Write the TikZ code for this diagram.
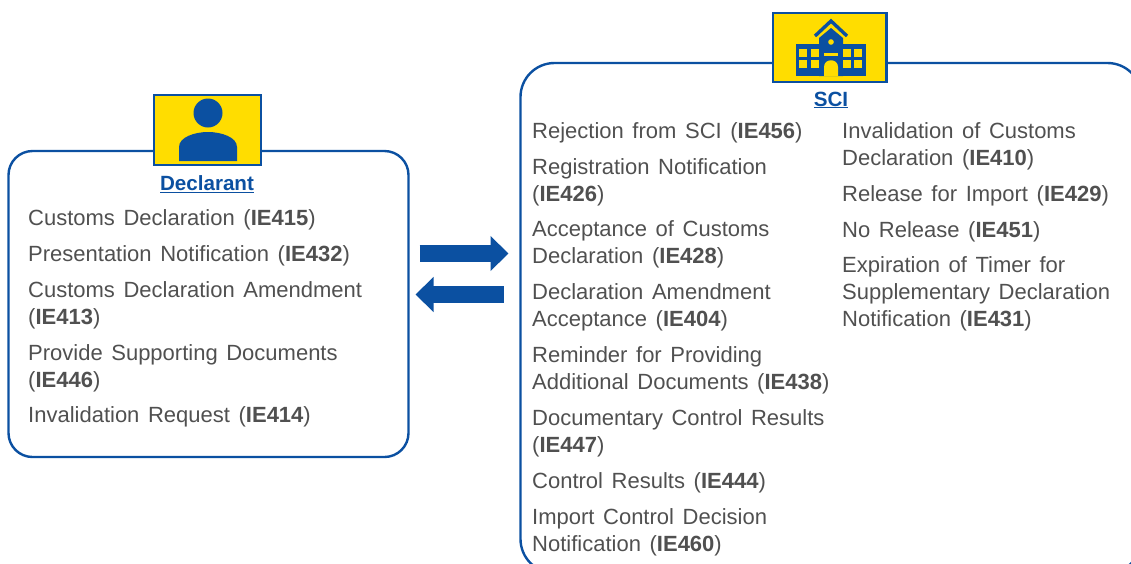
\documentclass[tikz,border=0pt]{standalone}
\usepackage{fontspec}
\setmainfont{Liberation Sans}
\usetikzlibrary{arrows.meta}
\definecolor{panelblue}{RGB}{11,80,161}
\definecolor{iconyellow}{RGB}{255,221,0}
\definecolor{itemgray}{RGB}{80,80,80}
\newcommand{\iecode}[1]{(\textbf{IE#1})}
\tikzset{
  panel/.style={draw=panelblue, line width=2.4pt, rounded corners=24pt, anchor=north west, inner sep=0pt, outer sep=0pt},
  iconbox/.style={draw=panelblue, line width=2.4pt, fill=iconyellow, anchor=north west, inner sep=0pt, outer sep=0pt},
  heading/.style={font=\fontsize{20.6}{24}\selectfont\bfseries, text=panelblue, inner sep=0pt},
  item/.style={font=\fontsize{22}{27}\selectfont, text=itemgray, anchor=north west, inner sep=0pt,
    text width=#1, align=left, execute at begin node={\spaceskip=8.6pt\strut}},
  flowarrow/.style={draw=panelblue, line width=17pt, -{Triangle[length=18pt, width=34pt]}}
}

\begin{document}
\begin{tikzpicture}[x=1pt, y=-1pt]

\clip (0,0) rectangle (1131,563);

% ── Panels ──────────────────────────────────────────────
\node[panel, minimum width=400pt, minimum height=306pt] (declarantbox) at (8.5,151) {};
\node[panel, rounded corners=34pt, minimum width=621pt, minimum height=510pt] (scibox) at (520.5,63) {};

% ── Icon boxes ──────────────────────────────────────────
\node[iconbox, minimum width=107pt, minimum height=70pt] (declaranticon) at (154,95) {};
\node[iconbox, minimum width=113.5pt, minimum height=69pt] (sciicon) at (773,13) {};

% person
\fill[panelblue] (208,113) circle[radius=14.5pt];
\fill[panelblue] (179,161) -- (179,147) .. controls (179,137) and (195,132) .. (208,132)
  .. controls (221,132) and (237,137) .. (237,147) -- (237,161) -- cycle;

% building
\fill[panelblue] (796,44) rectangle (866,76);
\fill[panelblue] (819,76) -- (819,38) -- (831,28) -- (843,38) -- (843,76) -- cycle;
\draw[panelblue, line width=3.4pt] (815,36) -- (831,21) -- (847,36);
\fill[iconyellow] (831,42) circle[radius=2.8pt];
\fill[iconyellow] (824,53) rectangle (838,56);
\fill[iconyellow] (824,76) -- (824,67) .. controls (824,58) and (838,58) .. (838,67) -- (838,76) -- cycle;
\foreach \wx in {799,811,843,854}
  \foreach \wy in {49,60}
    \fill[iconyellow] (\wx,\wy) rectangle (\wx+8,\wy+7.5);

% ── Headings ────────────────────────────────────────────
\node[heading] (declarantlabel) at (207,184) {\underline{Declarant}};
\node[heading] (scilabel) at (831,100) {\underline{SCI}};

% ── Declarant messages ──────────────────────────────────
\foreach \i/\ypos/\txt in {
  1/206.5/Customs Declaration \iecode{415},
  2/242.5/Presentation Notification \iecode{432},
  3/278.5/Customs Declaration Amendment\\\iecode{413},
  4/341.5/Provide Supporting Documents\\\iecode{446},
  5/403.5/Invalidation Request \iecode{414}}
{
  \node[item=350pt] (declarantitem\i) at (28,\ypos) {\txt};
}

% ── SCI messages, left column ───────────────────────────
\foreach \i/\ypos/\txt in {
  1/119.5/Rejection from SCI \iecode{456},
  2/155.5/Registration Notification\\\iecode{426},
  3/217.5/Acceptance of Customs\\Declaration \iecode{428},
  4/280.5/Declaration Amendment\\Acceptance \iecode{404},
  5/343.5/Reminder for Providing\\Additional Documents \iecode{438},
  6/406.5/Documentary Control Results\\\iecode{447},
  7/469.5/Control Results \iecode{444},
  8/505.5/Import Control Decision\\Notification \iecode{460}}
{
  \node[item=303pt] (scileft\i) at (532,\ypos) {\txt};
}

% ── SCI messages, right column ──────────────────────────
\foreach \i/\ypos/\txt in {
  1/119.5/Invalidation of Customs\\Declaration \iecode{410},
  2/182.5/Release for Import \iecode{429},
  3/218.5/No Release \iecode{451},
  4/253.5/Expiration of Timer for\\Supplementary Declaration\\Notification \iecode{431}}
{
  \node[item=285pt] (sciright\i) at (842,\ypos) {\txt};
}

% ── Exchange arrows ─────────────────────────────────────
\coordinate (sendlevel) at (460,253.5);
\coordinate (returnlevel) at (460,294.5);
\draw[flowarrow, shorten <=11pt, shorten >=12pt]
  (declarantbox.east |- sendlevel) -- (scibox.west |- sendlevel);
\draw[flowarrow, shorten <=17pt, shorten >=7pt]
  (scibox.west |- returnlevel) -- (declarantbox.east |- returnlevel);

\end{tikzpicture}
\end{document}
